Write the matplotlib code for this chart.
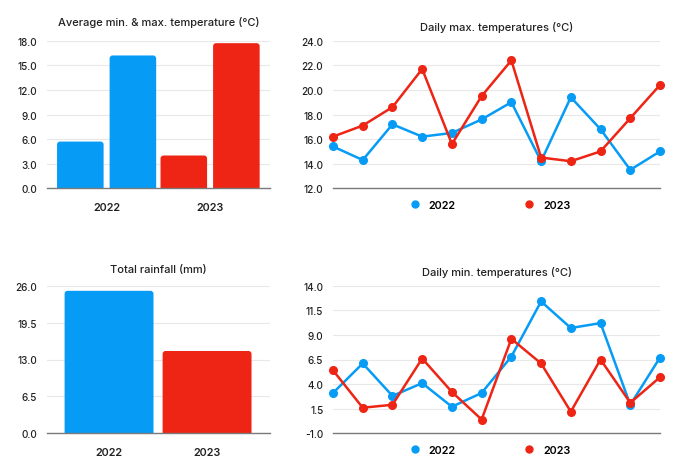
import matplotlib.pyplot as plt
import numpy as np
from matplotlib.patches import FancyBboxPatch

plt.rcParams["font.family"] = ["Inter", "DejaVu Sans"]

# %% data
years = ["2022", "2023"]
avg_min = [5.7, 4.0]
avg_max = [16.2, 17.7]
rainfall = [25.1, 14.5]

max_2022 = [15.4, 14.3, 17.2, 16.2, 16.5, 17.6, 19.0, 14.2, 19.4, 16.8, 13.5, 15.0]
max_2023 = [16.2, 17.1, 18.6, 21.7, 15.6, 19.5, 22.4, 14.5, 14.2, 15.0, 17.7, 20.4]
min_2022 = [3.1, 6.1, 2.8, 4.1, 1.7, 3.1, 6.8, 12.4, 9.7, 10.2, 1.9, 6.7]
min_2023 = [5.4, 1.6, 1.9, 6.6, 3.2, 0.4, 8.6, 6.1, 1.2, 6.5, 2.1, 4.7]

blue = "#069CF6"
red = "#EE2414"
grid_c = "#E8E8E8"
axis_c = "#7A7A7A"
text_c = "#222222"

# %% figure
fig = plt.figure(figsize=(6.96, 4.77), dpi=100)
W, H = 696, 477


def make_ax(x0, y0, x1, y1):
    return fig.add_axes([x0 / W, 1 - y1 / H, (x1 - x0) / W, (y1 - y0) / H])


def style(ax, ticks, title, title_pad=8):
    ax.set_yticks(ticks)
    ax.set_yticklabels([f"{t:.1f}" for t in ticks])
    ax.set_ylim(ticks[0], ticks[-1])
    for s in ["top", "right", "left"]:
        ax.spines[s].set_visible(False)
    ax.spines["bottom"].set_color(axis_c)
    ax.spines["bottom"].set_linewidth(1.0)
    ax.spines["bottom"].set_zorder(5)
    ax.yaxis.grid(True, color=grid_c, linewidth=0.8)
    ax.set_axisbelow(True)
    ax.tick_params(axis="y", length=0, labelsize=7.2, labelcolor=text_c, pad=7)
    ax.tick_params(axis="x", length=0, labelsize=7.8, labelcolor=text_c, pad=10)
    for lab in ax.get_yticklabels():
        lab.set_fontweight("medium")
    ax.set_title(title, fontsize=8.0, color=text_c, pad=title_pad, fontweight="medium")


def round_bars(ax, bars, radius_px=3):
    # swap plain rectangles for ones with rounded top corners
    bbox = ax.get_position()
    ax_w, ax_h = bbox.width * W, bbox.height * H
    x0, x1 = ax.get_xlim()
    y0, y1 = ax.get_ylim()
    rx = radius_px * (x1 - x0) / ax_w
    ry = radius_px * (y1 - y0) / ax_h
    for rect in bars:
        bx, bw, bh = rect.get_x(), rect.get_width(), rect.get_height()
        color = rect.get_facecolor()
        rect.remove()
        ax.add_patch(FancyBboxPatch((bx, -ry), bw, bh + ry,
                                    boxstyle=f"round,pad=0,rounding_size={rx}",
                                    mutation_aspect=ry / rx, facecolor=color,
                                    edgecolor="none", zorder=2))


# top left: average min & max
ax1 = make_ax(47, 41.7, 270, 189.3)
x = np.arange(len(years))
w = 0.45
b1 = ax1.bar(x - 0.254, avg_min, w, color=[blue, red])
b2 = ax1.bar(x + 0.254, avg_max, w, color=[blue, red])
ax1.set_xticks(x)
ax1.set_xticklabels(years, fontweight="semibold")
ax1.set_xlim(-0.576, 1.579)
style(ax1, [0, 3, 6, 9, 12, 15, 18], "Average min. & max. temperature (°C)", title_pad=11)
round_bars(ax1, b1)
round_bars(ax1, b2)

# bottom left: rainfall
ax3 = make_ax(47, 286.7, 270, 434.3)
b3 = ax3.bar(x, rainfall, 0.907, color=[blue, red])
ax3.set_xticks(x)
ax3.set_xticklabels(years, fontweight="semibold")
ax3.set_xlim(-0.633, 1.642)
style(ax3, [0, 6.5, 13, 19.5, 26], "Total rainfall (mm)", title_pad=10)
round_bars(ax3, b3)

# right: daily lines
days = np.arange(len(max_2022))


def line_panel(ax, s22, s23, ticks, title, leg_y):
    ax.plot(days, s22, color=blue, lw=1.8, marker="o", ms=5.5, label="2022", clip_on=False)
    ax.plot(days, s23, color=red, lw=1.8, marker="o", ms=5.5, label="2023", clip_on=False)
    ax.set_xlim(0, 11)
    ax.set_xticks([])
    style(ax, ticks, title)
    leg = ax.legend(loc="center", bbox_to_anchor=(0.48, leg_y), ncol=2, frameon=False,
                    handlelength=1.0, columnspacing=6.3, handletextpad=0.8,
                    prop={"weight": "semibold", "size": 7.8})
    for h in leg.legend_handles:
        h.set_linestyle("none")
        h.set_markersize(5)


ax2 = make_ax(333, 41.7, 660, 189.3)
line_panel(ax2, max_2022, max_2023, [12, 14, 16, 18, 20, 22, 24],
           "Daily max. temperatures (°C)", -0.11)

ax4 = make_ax(333, 286.7, 660, 434.3)
line_panel(ax4, min_2022, min_2023, [-1, 1.5, 4, 6.5, 9, 11.5, 14],
           "Daily min. temperatures (°C)", -0.11)

fig.savefig("out.png", dpi=100, facecolor="white")
